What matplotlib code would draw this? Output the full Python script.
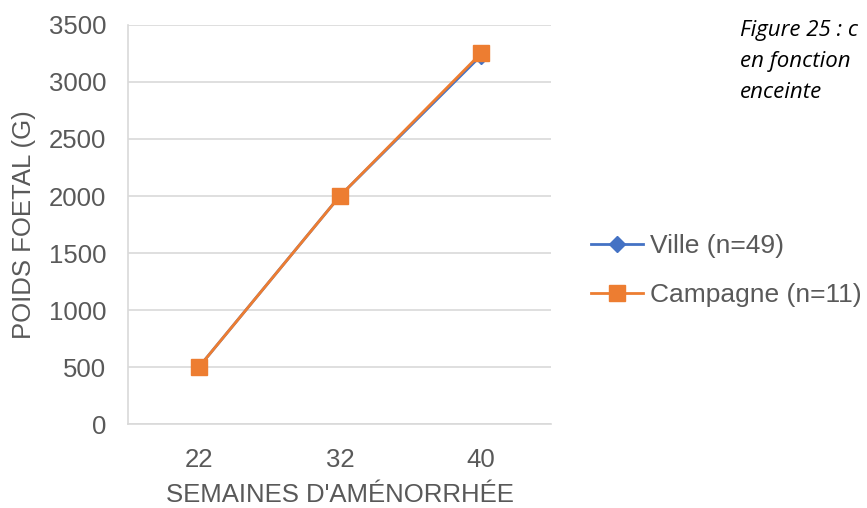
import matplotlib
matplotlib.use("Agg")
import matplotlib.pyplot as plt

weeks = ["22", "32", "40"]
ville = [500, 2000, 3230]
campagne = [500, 2000, 3250]

BLUE = "#4472c4"
ORANGE = "#ed7d31"
GREY = "#595959"

plt.rcParams["font.family"] = ["Liberation Sans", "DejaVu Sans"]

fig = plt.figure(figsize=(8.67, 5.08), dpi=100)
ax = fig.add_axes([0.148, 0.165, 0.488, 0.786])

x = list(range(len(weeks)))
ax.plot(x, ville, "-", color=BLUE, lw=2.0, marker="D", ms=8, label="Ville (n=49)")
ax.plot(x, campagne, "-", color=ORANGE, lw=2.0, marker="s", ms=12, label="Campagne (n=11)")

ax.set_xlim(-0.5, len(weeks) - 0.5)
ax.set_ylim(0, 3500)
ax.set_yticks(range(0, 3501, 500))
ax.set_xticks(x)
ax.set_xticklabels(weeks)
ax.tick_params(axis="both", length=0, colors=GREY, labelsize=18.5)
ax.tick_params(axis="y", pad=16)
ax.tick_params(axis="x", pad=17)
ax.grid(axis="y", color="#d9d9d9", lw=1.2)
ax.set_axisbelow(True)
for s in ["top", "right"]:
    ax.spines[s].set_visible(False)
for s in ["left", "bottom"]:
    ax.spines[s].set_color("#d9d9d9")
    ax.spines[s].set_linewidth(1.2)

ax.set_xlabel("SEMAINES D'AMÉNORRHÉE", color=GREY, fontsize=18.5, labelpad=8)
ax.set_ylabel("POIDS FOETAL (G)", color=GREY, fontsize=18.5, labelpad=9)

fig.legend(loc="upper left", bbox_to_anchor=(0.66, 0.575), frameon=False,
           fontsize=19, labelcolor=GREY, handlelength=2.0, labelspacing=0.95,
           handletextpad=0.25, borderaxespad=0.3)

fig.text(0.853, 0.96, "Figure 25 : c\nen fonction\nenceinte", family="Open Sans",
         style="italic", fontsize=16, va="top", ha="left", linespacing=1.6)

fig.savefig("out.png", dpi=100)
